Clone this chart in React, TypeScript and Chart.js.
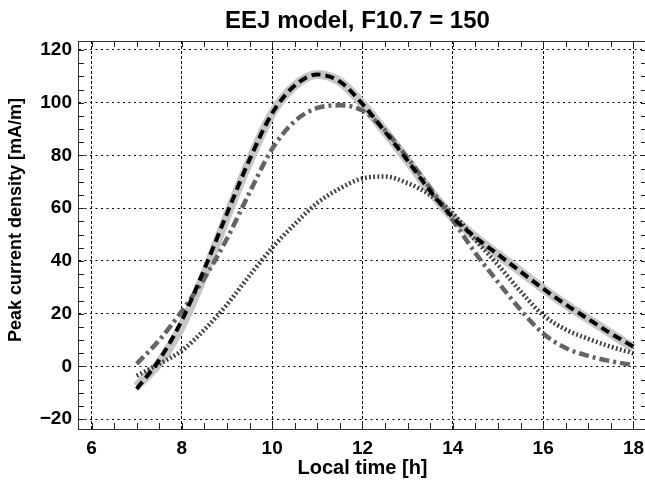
import React, { useEffect, useRef } from "react";
import { Chart, registerables } from "chart.js";

Chart.register(...registerables);

const times = [7, 7.5, 8, 8.5, 9, 9.5, 10, 10.5, 11, 11.5, 12, 12.5, 13, 13.5, 14, 14.5, 15, 15.5, 16, 16.5, 17, 17.5, 18];

const graySolid = [-7.5, 1.5, 15.5, 35, 57, 78, 96, 106.5, 110.7, 108, 99.5, 89, 78, 66.5, 56.5, 49, 42.5, 36, 29.5, 23.5, 18, 12.5, 7];
const blackDashed = [-8.5, 2.5, 17.5, 37, 58, 78.5, 96, 106.5, 110.7, 108, 99.5, 89, 78, 66.5, 56.5, 49, 42.5, 36, 29.5, 23.5, 18, 12.5, 7.5];
const dashDot = [1, 10, 21, 33.5, 48.5, 66, 82.5, 93, 98, 99, 97, 89.5, 79, 67.5, 55.5, 43, 32, 21.5, 12.5, 7, 4, 2, 0.5];
const dotted = [-3.5, 1, 6, 14, 23.5, 34.5, 45, 54, 62, 67.5, 71.3, 72, 69.5, 65, 58, 48, 38.5, 28.5, 19.5, 14, 10.5, 7.5, 5];

const xTicks = [6, 8, 10, 12, 14, 16, 18];
const yTicks = [-20, 0, 20, 40, 60, 80, 100, 120];

const titleText = "EEJ model, F10.7 = 150";
const xTitle = "Local time [h]";
const yTitle = "Peak current density [mA/m]";

const FONT = "'Liberation Sans', Arial, Helvetica, sans-serif";

const toPts = (vals: number[]) => vals.map((v, i) => ({ x: times[i], y: v }));

const decorPlugin = {
  id: "decor",
  afterDraw(chart: any) {
    const { ctx, chartArea } = chart;
    const xs = chart.scales.x;
    const ys = chart.scales.y;
    ctx.save();
    ctx.strokeStyle = "#222";
    ctx.lineWidth = 1;
    ctx.setLineDash([]);
    const len = 6;
    ctx.beginPath();
    for (let v = 6; v <= 18.001; v += 0.5) {
      const px = Math.round(xs.getPixelForValue(v)) + 0.5;
      if (px < chartArea.left || px > chartArea.right) continue;
      ctx.moveTo(px, chartArea.bottom);
      ctx.lineTo(px, chartArea.bottom - len);
      ctx.moveTo(px, chartArea.top);
      ctx.lineTo(px, chartArea.top + len);
    }
    for (let v = -20; v <= 120.001; v += 5) {
      const py = Math.round(ys.getPixelForValue(v)) + 0.5;
      ctx.moveTo(chartArea.left, py);
      ctx.lineTo(chartArea.left + len, py);
      ctx.moveTo(chartArea.right, py);
      ctx.lineTo(chartArea.right - len, py);
    }
    ctx.stroke();
    ctx.beginPath();
    ctx.strokeStyle = "#333";
    ctx.moveTo(chartArea.left, chartArea.top + 0.5);
    ctx.lineTo(chartArea.right, chartArea.top + 0.5);
    ctx.moveTo(chartArea.right - 0.5, chartArea.top);
    ctx.lineTo(chartArea.right - 0.5, chartArea.bottom);
    ctx.stroke();

    ctx.fillStyle = "#000";
    ctx.textAlign = "center";
    ctx.textBaseline = "middle";
    ctx.font = `bold 24px ${FONT}`;
    ctx.fillText(titleText, (chartArea.left + chartArea.right) / 2 - 5, 21);
    ctx.font = `bold 20px ${FONT}`;
    ctx.fillText(xTitle, (chartArea.left + chartArea.right) / 2, 468);
    ctx.font = `bold 18px ${FONT}`;
    ctx.translate(16, 220);
    ctx.rotate(-Math.PI / 2);
    ctx.fillText(yTitle, 0, 0);
    ctx.restore();
  },
};

export default function App() {
  const ref = useRef<HTMLCanvasElement>(null);
  useEffect(() => {
    document.body.style.margin = "0";
    document.body.style.overflow = "hidden";
    const canvas = ref.current!;
    const common = { pointRadius: 0, cubicInterpolationMode: "monotone" as const, fill: false };
    const chart = new Chart(canvas, {
      type: "line",
      data: {
        datasets: [
          { ...common, data: toPts(blackDashed), borderColor: "#000", borderWidth: 4, borderDash: [9, 5] },
          { ...common, data: toPts(dashDot), borderColor: "#646464", borderWidth: 4.5, borderDash: [10, 4, 3, 4] },
          { ...common, data: toPts(dotted), borderColor: "#3c3c3c", borderWidth: 4.5, borderDash: [1.8, 2.4] },
          { ...common, data: toPts(graySolid), borderColor: "#c6c6c6", borderWidth: 9 },
        ],
      },
      options: {
        animation: false,
        responsive: false,
        maintainAspectRatio: false,
        layout: { padding: { top: 41, right: 13, left: 0, bottom: 0 } },
        plugins: {
          legend: { display: false },
          title: { display: false },
          tooltip: { enabled: false },
        },
        scales: {
          x: {
            type: "linear",
            min: 5.7,
            max: 18.3,
            afterFit: (s: any) => {
              s.height = 52;
            },
            afterBuildTicks: (s: any) => {
              s.ticks = xTicks.map((v) => ({ value: v }));
            },
            ticks: {
              autoSkip: false,
              maxRotation: 0,
              padding: 8,
              color: "#000",
              font: { family: FONT, size: 19, weight: "bold" },
              callback: (v: any) => String(v),
            },
            grid: { color: "#000", lineWidth: 1, drawTicks: false },
            border: { display: true, color: "#333", width: 1, dash: [3, 2] },
          },
          y: {
            type: "linear",
            min: -23.7,
            max: 123.4,
            afterFit: (s: any) => {
              s.width = 78;
            },
            afterBuildTicks: (s: any) => {
              s.ticks = yTicks.map((v) => ({ value: v }));
            },
            ticks: {
              padding: 6,
              color: "#000",
              font: { family: FONT, size: 19, weight: "bold" },
              callback: (v: any) => (v < 0 ? "\u2212" + Math.abs(v) : String(v)),
            },
            grid: { color: "#000", lineWidth: 1, drawTicks: false },
            border: { display: true, color: "#333", width: 1, dash: [2, 3.5] },
          },
        },
      },
      plugins: [decorPlugin],
    });
    return () => chart.destroy();
  }, []);
  return (
    <div style={{ width: 660, height: 481 }}>
      <canvas ref={ref} width={660} height={481} style={{ display: "block", width: 660, height: 481 }} />
    </div>
  );
}
